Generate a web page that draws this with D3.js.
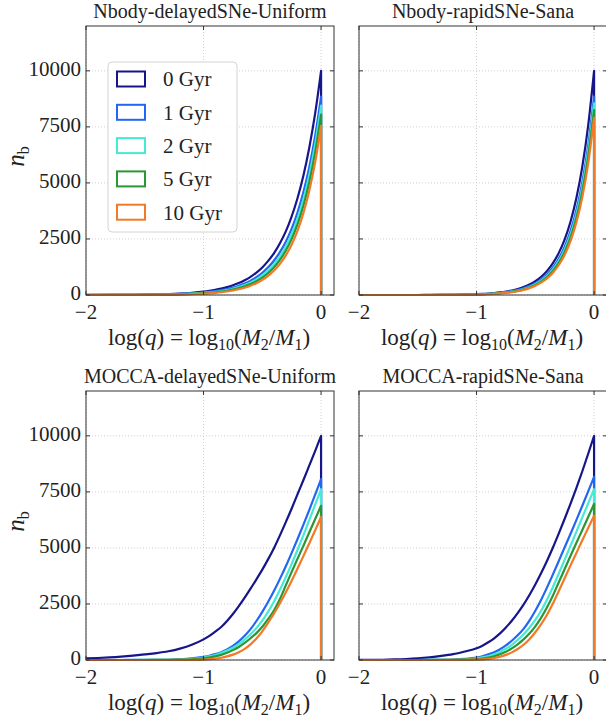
<!DOCTYPE html>
<html>
<head>
<meta charset="utf-8">
<script src="https://cdn.jsdelivr.net/npm/d3@7"></script>
<style>
  body { margin: 0; background: #fff; }
  text { font-family: "Liberation Serif", "DejaVu Serif", serif; fill: #222; white-space: pre; }
</style>
</head>
<body>
<svg id="chart" width="606" height="718"></svg>
<script>
// log10(q) sample positions (left -> right)
var logq = [-2.0, -1.9, -1.8, -1.7, -1.6, -1.5, -1.4, -1.3, -1.2, -1.1, -1.0,
  -0.95, -0.9, -0.85, -0.8, -0.75, -0.7, -0.65, -0.6, -0.55, -0.5,
  -0.45, -0.4, -0.35, -0.3, -0.25, -0.2, -0.15, -0.1, -0.05, 0.0];

var ageLabels = ["0 Gyr", "1 Gyr", "2 Gyr", "5 Gyr", "10 Gyr"];
var ageColors = ["#16168a", "#2266f2", "#44ead4", "#2a9634", "#f27a26"];

var panelTitles = ["Nbody-delayedSNe-Uniform", "Nbody-rapidSNe-Sana",
  "MOCCA-delayedSNe-Uniform", "MOCCA-rapidSNe-Sana"];

var xTicks = [-2, -1, 0];
var yTicks = [0, 2500, 5000, 7500, 10000];

// n_b per age, one row per age (0, 1, 2, 5, 10 Gyr)
var nbodyDelayedUniform = [
  [2, 3, 5, 8, 12, 19, 28, 43, 66, 100, 151, 187, 230, 284, 350, 432, 532, 657, 810, 1000, 1230, 1520, 1870, 2310, 2840, 3510, 4330, 5330, 6580, 8110, 10000],
  [1, 2, 3, 5, 8, 12, 19, 30, 46, 72, 111, 139, 173, 215, 267, 333, 414, 515, 641, 798, 993, 1235, 1540, 1915, 2380, 2960, 3690, 4590, 5710, 7110, 8850],
  [1, 1, 2, 4, 6, 9, 15, 23, 37, 58, 91, 114, 142, 179, 224, 281, 353, 443, 556, 697, 875, 1097, 1376, 1727, 2166, 2720, 3410, 4280, 5370, 6740, 8450],
  [0, 1, 2, 3, 4, 7, 11, 18, 29, 47, 75, 95, 120, 151, 191, 242, 305, 386, 487, 616, 778, 983, 1242, 1569, 1982, 2504, 3163, 3995, 5045, 6375, 8050],
  [0, 1, 1, 2, 3, 5, 9, 14, 23, 37, 60, 76, 97, 124, 157, 201, 255, 326, 414, 528, 672, 855, 1090, 1390, 1770, 2250, 2870, 3660, 4660, 5930, 7550]
];

var nbodyRapidSana = [
  [0, 0, 0, 0, 0, 1, 2, 4, 8, 18, 38, 50, 66, 88, 116, 153, 202, 267, 353, 467, 617, 815, 1076, 1422, 1879, 2483, 3281, 4335, 5728, 7568, 10000],
  [0, 0, 0, 0, 0, 0, 1, 3, 7, 15, 32, 42, 55, 73, 97, 129, 171, 226, 300, 398, 527, 699, 927, 1229, 1629, 2160, 2864, 3798, 5033, 6675, 8850],
  [0, 0, 0, 0, 0, 0, 1, 2, 5, 12, 27, 36, 48, 64, 86, 114, 152, 203, 270, 361, 481, 641, 855, 1140, 1520, 2028, 2704, 3606, 4808, 6412, 8550],
  [0, 0, 0, 0, 0, 0, 1, 2, 4, 10, 24, 33, 44, 58, 78, 104, 140, 187, 250, 335, 448, 600, 803, 1074, 1437, 1923, 2573, 3442, 4606, 6165, 8250],
  [0, 0, 0, 0, 0, 0, 0, 1, 3, 8, 21, 29, 38, 52, 70, 93, 126, 169, 227, 305, 410, 551, 741, 996, 1338, 1799, 2419, 3251, 4372, 5875, 7900]
];

var moccaDelayedUniform = [
  [70, 90, 115, 150, 195, 250, 310, 390, 510, 680, 920, 1080, 1270, 1470, 1740, 2050, 2400, 2780, 3180, 3600, 4030, 4500, 5000, 5560, 6150, 6760, 7400, 8030, 8680, 9330, 10000],
  [0, 0, 0, 1, 2, 3, 6, 12, 32, 70, 140, 190, 260, 350, 470, 630, 830, 1080, 1380, 1740, 2150, 2600, 3090, 3620, 4180, 4780, 5400, 6040, 6700, 7380, 8070],
  [0, 0, 0, 0, 1, 2, 5, 10, 22, 50, 110, 160, 225, 310, 420, 550, 710, 910, 1150, 1430, 1760, 2160, 2610, 3130, 3700, 4290, 4920, 5570, 6250, 6930, 7620],
  [0, 0, 0, 0, 0, 1, 3, 6, 14, 33, 75, 110, 160, 230, 320, 440, 580, 760, 970, 1200, 1480, 1830, 2220, 2720, 3330, 3930, 4520, 5100, 5700, 6290, 6880],
  [0, 0, 0, 0, 0, 0, 0, 1, 3, 7, 20, 35, 60, 100, 160, 240, 350, 500, 700, 960, 1280, 1670, 2080, 2530, 3020, 3540, 4080, 4640, 5210, 5790, 6380]
];

var moccaRapidSana = [
  [2, 5, 12, 25, 45, 75, 120, 180, 260, 380, 520, 640, 790, 970, 1190, 1450, 1750, 2090, 2470, 2900, 3370, 3880, 4430, 5020, 5650, 6300, 6980, 7680, 8420, 9200, 10000],
  [0, 0, 0, 0, 0, 1, 3, 8, 20, 50, 110, 170, 250, 350, 480, 650, 860, 1100, 1390, 1760, 2200, 2690, 3240, 3820, 4420, 5030, 5630, 6250, 6880, 7520, 8170],
  [0, 0, 0, 0, 0, 1, 2, 5, 12, 30, 70, 115, 175, 250, 360, 500, 680, 900, 1150, 1440, 1790, 2200, 2700, 3260, 3860, 4480, 5100, 5730, 6360, 6990, 7620],
  [0, 0, 0, 0, 0, 0, 1, 2, 6, 15, 40, 65, 105, 170, 260, 370, 520, 700, 920, 1180, 1500, 1890, 2350, 2880, 3470, 4060, 4650, 5230, 5800, 6380, 6960],
  [0, 0, 0, 0, 0, 0, 0, 1, 2, 5, 15, 28, 50, 90, 150, 230, 340, 490, 680, 930, 1240, 1600, 2020, 2520, 3080, 3650, 4220, 4780, 5340, 5890, 6440]
];

var svg = d3.select('#chart');
var W = 248, H = 269;

var panels = [
  { title: panelTitles[0], counts: nbodyDelayedUniform, x0: 86, y0: 26, yLabels: true, legend: true },
  { title: panelTitles[1], counts: nbodyRapidSana, x0: 359, y0: 26 },
  { title: panelTitles[2], counts: moccaDelayedUniform, x0: 86, y0: 391, yLabels: true },
  { title: panelTitles[3], counts: moccaRapidSana, x0: 359, y0: 391 }
];

function xLabel(g, cx, cy) {
  var t = g.append('text')
    .attr('x', cx).attr('y', cy)
    .attr('text-anchor', 'middle')
    .attr('font-size', 23);
  t.append('tspan').text('log(');
  t.append('tspan').attr('font-style', 'italic').text('q');
  t.append('tspan').text(') = log');
  t.append('tspan').attr('font-size', 16).attr('dy', 5).text('10');
  t.append('tspan').attr('dy', -5).text('(');
  t.append('tspan').attr('font-style', 'italic').text('M');
  t.append('tspan').attr('font-size', 16).attr('dy', 5).text('2');
  t.append('tspan').attr('dy', -5).text('/');
  t.append('tspan').attr('font-style', 'italic').text('M');
  t.append('tspan').attr('font-size', 16).attr('dy', 5).text('1');
  t.append('tspan').attr('dy', -5).text(')');
}

panels.forEach(function (p) {
  var x = d3.scaleLinear().domain([-2, 0.11]).range([0, W]);
  var y = d3.scaleLinear().domain([0, 12000]).range([H, 0]);

  var g = svg.append('g').attr('transform', 'translate(' + p.x0 + ',' + p.y0 + ')');

  // dotted grid
  g.selectAll('.gx').data(xTicks).enter().append('line')
    .attr('x1', function (d) { return x(d); }).attr('x2', function (d) { return x(d); })
    .attr('y1', 0).attr('y2', H)
    .attr('stroke', '#c4c4c4').attr('stroke-width', 0.8).attr('stroke-dasharray', '1,2');
  g.selectAll('.gy').data(yTicks).enter().append('line')
    .attr('x1', 0).attr('x2', W)
    .attr('y1', function (d) { return y(d); }).attr('y2', function (d) { return y(d); })
    .attr('stroke', '#c4c4c4').attr('stroke-width', 0.8).attr('stroke-dasharray', '1,2');

  // histograms
  var line = d3.line()
    .x(function (d) { return x(d[0]); })
    .y(function (d) { return y(d[1]); })
    .curve(d3.curveMonotoneX);

  p.counts.forEach(function (row, i) {
    var pts = logq.map(function (q, k) { return [q, row[k]]; });
    var last = pts[pts.length - 1];
    g.append('path')
      .attr('d', line(pts) + 'L' + x(last[0]) + ',' + y(0))
      .attr('fill', 'none')
      .attr('stroke', ageColors[i])
      .attr('stroke-width', 2.2)
      .attr('stroke-linejoin', 'round');
  });

  // frame
  g.append('rect').attr('width', W).attr('height', H)
    .attr('fill', 'none').attr('stroke', '#333').attr('stroke-width', 1);

  // inward ticks on all sides
  xTicks.forEach(function (d) {
    g.append('line').attr('x1', x(d)).attr('x2', x(d)).attr('y1', H).attr('y2', H - 4).attr('stroke', '#333');
    g.append('line').attr('x1', x(d)).attr('x2', x(d)).attr('y1', 0).attr('y2', 4).attr('stroke', '#333');
  });
  yTicks.forEach(function (d) {
    g.append('line').attr('x1', 0).attr('x2', 4).attr('y1', y(d)).attr('y2', y(d)).attr('stroke', '#333');
    g.append('line').attr('x1', W).attr('x2', W - 4).attr('y1', y(d)).attr('y2', y(d)).attr('stroke', '#333');
  });

  // tick labels
  g.selectAll('.xt').data(xTicks).enter().append('text')
    .attr('x', function (d) { return x(d); })
    .attr('y', H + 17).attr('dy', '0.35em')
    .attr('text-anchor', 'middle').attr('font-size', 21)
    .text(function (d) { return d < 0 ? '\u2212' + Math.abs(d) : d; });

  if (p.yLabels) {
    g.selectAll('.yt').data(yTicks).enter().append('text')
      .attr('x', -5).attr('y', function (d) { return y(d) - 2; }).attr('dy', '0.35em')
      .attr('text-anchor', 'end').attr('font-size', 21)
      .text(function (d) { return d; });

    var yl = g.append('text')
      .attr('transform', 'translate(' + (-62) + ',' + (H / 2 - 4) + ') rotate(-90)')
      .attr('text-anchor', 'middle').attr('font-size', 25);
    yl.append('tspan').attr('font-style', 'italic').text('n');
    yl.append('tspan').attr('font-size', 16).attr('dy', 5).text('b');
  }

  // title and x label
  g.append('text').attr('x', W / 2).attr('y', -8)
    .attr('text-anchor', 'middle').attr('font-size', 20)
    .text(p.title);
  xLabel(g, W / 2 - 1, H + 50);

  if (p.legend) {
    var lg = g.append('g').attr('transform', 'translate(22,36)');
    lg.append('rect').attr('width', 129).attr('height', 170).attr('rx', 4)
      .attr('fill', '#fff').attr('fill-opacity', 0.85)
      .attr('stroke', '#d4d4d4').attr('stroke-width', 1);
    ageLabels.forEach(function (lab, i) {
      var cy = 17 + i * 33.3;
      lg.append('rect').attr('x', 9).attr('y', cy - 7.5).attr('width', 28).attr('height', 15)
        .attr('fill', 'none').attr('stroke', ageColors[i]).attr('stroke-width', 2);
      lg.append('text').attr('x', 55).attr('y', cy).attr('dy', '0.35em')
        .attr('font-size', 21).text(lab);
    });
  }
});
</script>
</body>
</html>
